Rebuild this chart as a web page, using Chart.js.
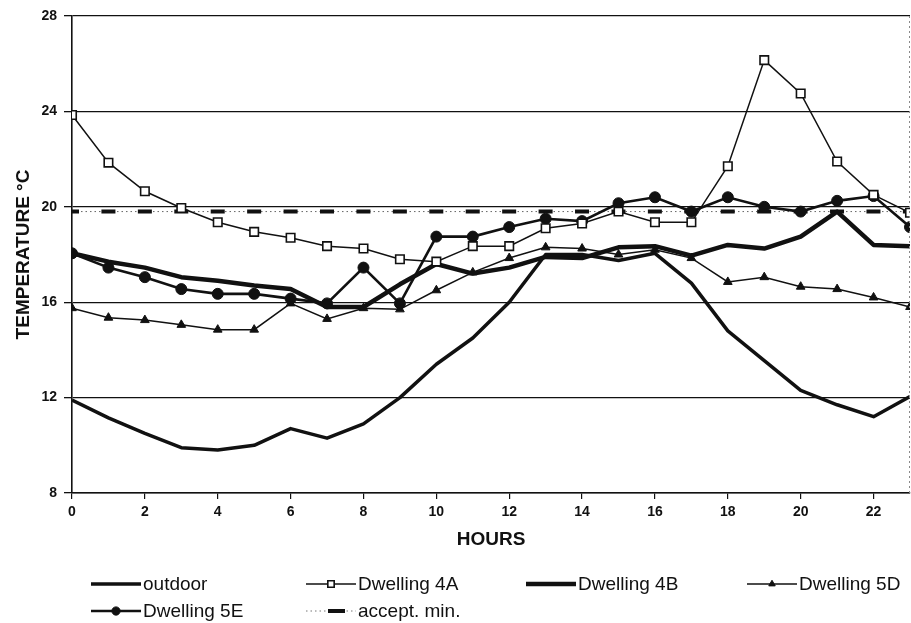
<!DOCTYPE html>
<html>
<head>
<meta charset="utf-8">
<title>Temperature by hour</title>
<script src="https://cdn.jsdelivr.net/npm/chart.js@4.4.1/dist/chart.umd.min.js"></script>
<style>
    html, body { margin: 0; padding: 0; background: #fff; }
    #wrap { width: 911px; height: 623px; }
</style>
</head>
<body>
<div id="wrap"><canvas id="tempChart" width="911" height="623"></canvas></div>
<script>
// Hourly temperatures (°C)
const hours = [0, 1, 2, 3, 4, 5, 6, 7, 8, 9, 10, 11, 12, 13, 14, 15, 16, 17, 18, 19, 20, 21, 22, 23];
const outdoor = [11.9, 11.15, 10.5, 9.9, 9.8, 10.0, 10.7, 10.3, 10.9, 12.0, 13.4, 14.5, 16.0, 18.0, 18.0, 17.75, 18.05, 16.8, 14.8, 13.55, 12.3, 11.7, 11.2, 12.05];
const dwelling4A = [23.85, 21.85, 20.65, 19.95, 19.35, 18.95, 18.7, 18.35, 18.25, 17.8, 17.7, 18.35, 18.35, 19.1, 19.3, 19.8, 19.35, 19.35, 21.7, 26.15, 24.75, 21.9, 20.5, 19.75];
const dwelling4B = [18.05, 17.7, 17.45, 17.05, 16.9, 16.7, 16.55, 15.8, 15.8, 16.75, 17.6, 17.2, 17.45, 17.9, 17.85, 18.3, 18.35, 17.95, 18.4, 18.25, 18.75, 19.8, 18.4, 18.35];
const dwelling5D = [15.75, 15.35, 15.25, 15.05, 14.85, 14.85, 15.95, 15.3, 15.75, 15.7, 16.5, 17.25, 17.85, 18.3, 18.25, 18.0, 18.2, 17.85, 16.85, 17.05, 16.65, 16.55, 16.2, 15.8];
const dwelling5E = [18.05, 17.45, 17.05, 16.55, 16.35, 16.35, 16.15, 15.95, 17.45, 15.95, 18.75, 18.75, 19.15, 19.5, 19.4, 20.15, 20.4, 19.8, 20.4, 20.0, 19.8, 20.25, 20.45, 19.15];
const acceptMin = [19.8, 19.8, 19.8, 19.8, 19.8, 19.8, 19.8, 19.8, 19.8, 19.8, 19.8, 19.8, 19.8, 19.8, 19.8, 19.8, 19.8, 19.8, 19.8, 19.8, 19.8, 19.8, 19.8, 19.8];

const xTickValues = [0, 2, 4, 6, 8, 10, 12, 14, 16, 18, 20, 22];
const yTickValues = [8, 12, 16, 20, 24, 28];
const seriesNames = ['outdoor', 'Dwelling 4A', 'Dwelling 4B', 'Dwelling 5D', 'Dwelling 5E', 'accept. min.'];

const FONT = '"Liberation Sans", Arial, sans-serif';
const INK = '#111';

function toPoints(values) {
    return values.map((v, i) => ({ x: hours[i], y: v }));
}

// Legend drawn below the axis in a fixed two-row grid, like the original
const legendSlots = [
    { x: 91, y: 584 }, { x: 306, y: 584 }, { x: 526, y: 584 }, { x: 747, y: 584 },
    { x: 91, y: 611 }, { x: 306, y: 611 }
];

const gridLegend = {
    id: 'gridLegend',
    afterDraw(chart) {
        const ctx = chart.ctx;
        const area = chart.chartArea;

        // faint dotted right frame
        ctx.save();
        ctx.strokeStyle = '#888';
        ctx.lineWidth = 1;
        ctx.setLineDash([2, 3]);
        ctx.beginPath();
        ctx.moveTo(area.right - 0.5, area.top);
        ctx.lineTo(area.right - 0.5, area.bottom);
        ctx.stroke();
        ctx.restore();

        legendSlots.forEach((slot, i) => {
            const ds = chart.data.datasets[i];
            const x0 = slot.x, x1 = slot.x + 50, y = slot.y;
            ctx.save();
            ctx.strokeStyle = INK;
            if (i === 5) {
                ctx.lineWidth = 1;
                ctx.setLineDash([1.5, 3]);
                ctx.strokeStyle = '#777';
                ctx.beginPath(); ctx.moveTo(x0, y); ctx.lineTo(x1, y); ctx.stroke();
                ctx.setLineDash([]);
                ctx.strokeStyle = INK;
                ctx.lineWidth = 4;
                ctx.beginPath(); ctx.moveTo(x0 + 22, y); ctx.lineTo(x0 + 39, y); ctx.stroke();
            } else {
                ctx.lineWidth = ds.borderWidth;
                ctx.beginPath(); ctx.moveTo(x0, y); ctx.lineTo(x1, y); ctx.stroke();
                if (ds.pointRadius > 0) {
                    ctx.fillStyle = ds.pointBackgroundColor;
                    ctx.strokeStyle = INK;
                    ctx.lineWidth = ds.pointBorderWidth;
                    Chart.helpers.drawPoint(ctx, {
                        pointStyle: ds.pointStyle,
                        rotation: 0,
                        radius: ds.pointRadius * 0.75,
                        borderWidth: ds.pointBorderWidth
                    }, x0 + 25, y);
                }
            }
            ctx.fillStyle = INK;
            ctx.font = '19px ' + FONT;
            ctx.textBaseline = 'middle';
            ctx.textAlign = 'left';
            ctx.fillText(seriesNames[i], x1 + 2, y + 1);
            ctx.restore();
        });
    }
};

const ctx = document.getElementById('tempChart').getContext('2d');
new Chart(ctx, {
    type: 'line',
    data: {
        datasets: [
            {
                label: seriesNames[0],
                data: toPoints(outdoor),
                borderColor: INK,
                borderWidth: 3.5,
                pointRadius: 0,
                borderJoinStyle: 'round'
            },
            {
                label: seriesNames[1],
                data: toPoints(dwelling4A),
                borderColor: INK,
                borderWidth: 1.5,
                pointStyle: 'rect',
                pointRadius: 6,
                pointBackgroundColor: '#fff',
                pointBorderColor: INK,
                pointBorderWidth: 1.6
            },
            {
                label: seriesNames[2],
                data: toPoints(dwelling4B),
                borderColor: INK,
                borderWidth: 4.5,
                pointRadius: 0,
                borderJoinStyle: 'round'
            },
            {
                label: seriesNames[3],
                data: toPoints(dwelling5D),
                borderColor: INK,
                borderWidth: 1.5,
                pointStyle: 'triangle',
                pointRadius: 5,
                pointBackgroundColor: INK,
                pointBorderColor: INK,
                pointBorderWidth: 1
            },
            {
                label: seriesNames[4],
                data: toPoints(dwelling5E),
                borderColor: INK,
                borderWidth: 2.6,
                pointStyle: 'circle',
                pointRadius: 5.5,
                pointBackgroundColor: INK,
                pointBorderColor: INK,
                pointBorderWidth: 1
            },
            {
                label: seriesNames[5],
                data: toPoints(acceptMin),
                borderColor: INK,
                borderWidth: 4,
                borderDash: [14, 22.43],
                borderDashOffset: 7,
                borderCapStyle: 'butt',
                pointRadius: 0
            },
            {
                // thin dotted trace between the dashes of accept. min.
                label: 'accept. min. (dots)',
                data: toPoints(acceptMin),
                borderColor: '#666',
                borderWidth: 1,
                borderDash: [1.5, 3],
                pointRadius: 0
            }
        ]
    },
    options: {
        responsive: false,
        animation: false,
        events: [],
        layout: {
            autoPadding: false,
            padding: { top: 16, right: 1, bottom: 67, left: 0 }
        },
        plugins: {
            legend: { display: false },
            tooltip: { enabled: false }
        },
        scales: {
            x: {
                type: 'linear',
                min: 0,
                max: 23,
                afterBuildTicks: scale => {
                    scale.ticks = xTickValues.map(v => ({ value: v }));
                },
                afterFit: scale => {
                    scale.height = 63;
                    scale.paddingLeft = 0;
                    scale.paddingRight = 0;
                },
                grid: {
                    drawOnChartArea: false,
                    drawTicks: true,
                    tickLength: 6,
                    color: INK,
                    lineWidth: 1.2
                },
                border: { display: true, color: INK, width: 1.6 },
                ticks: {
                    color: INK,
                    padding: 5,
                    maxRotation: 0,
                    autoSkip: false,
                    font: { family: FONT, size: 14, weight: 'bold' }
                },
                title: {
                    display: true,
                    text: 'HOURS',
                    color: INK,
                    padding: { top: 4, bottom: 5 },
                    font: { family: FONT, size: 19, weight: 'bold' }
                }
            },
            y: {
                min: 8,
                max: 28,
                afterBuildTicks: scale => {
                    scale.ticks = yTickValues.map(v => ({ value: v }));
                },
                afterFit: scale => { scale.width = 72; },
                grid: {
                    color: INK,
                    lineWidth: 1.3,
                    drawTicks: true,
                    tickLength: 8
                },
                border: { display: true, color: INK, width: 1.6 },
                ticks: {
                    color: INK,
                    padding: 7,
                    font: { family: FONT, size: 14, weight: 'bold' }
                },
                title: {
                    display: true,
                    text: 'TEMPERATURE °C',
                    color: INK,
                    padding: { top: 12, bottom: 0 },
                    font: { family: FONT, size: 19, weight: 'bold' }
                }
            }
        }
    },
    plugins: [gridLegend]
});
</script>
</body>
</html>
